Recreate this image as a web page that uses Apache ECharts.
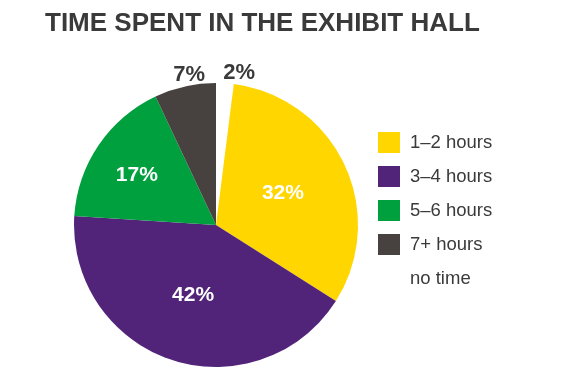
<!DOCTYPE html>
<html><head><meta charset="utf-8">
<script src="https://cdn.jsdelivr.net/npm/echarts@6/dist/echarts.min.js"></script>
<style>html,body{margin:0;padding:0;background:#fff}#c{width:568px;height:379px}</style>
</head><body><div id="c"></div>
<script>
const categories = ['no time', '1–2 hours', '3–4 hours', '5–6 hours', '7+ hours'];
const values = [2, 32, 42, 17, 7];
const legendOrder = ['1–2 hours', '3–4 hours', '5–6 hours', '7+ hours', 'no time'];
const colors = ['#ffffff', '#FFD600', '#51247A', '#00A03E', '#47423F'];
const titleText = 'TIME SPENT IN THE EXHIBIT HALL';

const chart = echarts.init(document.getElementById('c'), null, {renderer: 'canvas'});
const outsideIdx = [0, 4];
const data = categories.map((name, i) => {
  const item = {name, value: values[i], itemStyle: {color: colors[i]}};
  if (outsideIdx.includes(i)) {
    item.label = {position: 'outside', color: '#3a3a3a', fontSize: 22};
    item.labelLine = {show: false, length: 4, length2: 0};
  }
  return item;
});
chart.setOption({
  animation: false,
  title: {
    text: titleText, left: 40, top: 6,
    textStyle: {fontFamily: 'Liberation Sans', fontWeight: 'bold', fontSize: 26, color: '#3a3a3a'}
  },
  legend: {
    orient: 'vertical', left: 373, top: 127,
    itemWidth: 22, itemHeight: 21, itemGap: 13,
    data: legendOrder,
    selectedMode: false,
    textStyle: {fontFamily: 'Liberation Sans', fontSize: 18.5, color: '#3a3a3a', padding: [0, 0, 0, 5]},
    icon: 'rect'
  },
  series: [{
    type: 'pie',
    center: [216, 225], radius: 142,
    startAngle: 90, clockwise: true,
    data,
    label: {
      show: true, position: 'inside', formatter: '{c}%',
      fontFamily: 'Liberation Sans', fontWeight: 'bold', fontSize: 21, color: '#ffffff'
    },
    labelLayout: function (p) {
      if (p.dataIndex === 3) return {dx: -18, dy: -8};
      if (p.dataIndex === 4) return {dx: 26, dy: -8};
      if (p.dataIndex === 0) return {dx: -7, dy: -6};
      return {};
    },
    emphasis: {disabled: true}
  }]
});
</script></body></html>
